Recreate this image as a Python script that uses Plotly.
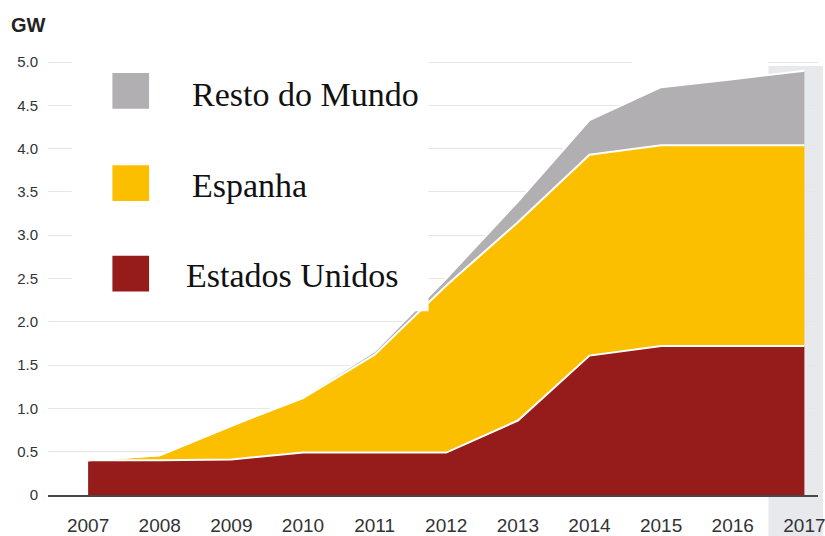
"""Solar thermal (CSP) capacity, stacked area chart: USA, Spain, rest of world."""

import plotly.graph_objects as go

# ── data (GW, cumulative per region) ──
years = [2007, 2008, 2009, 2010, 2011, 2012, 2013, 2014, 2015, 2016, 2017]
estados_unidos = [0.40, 0.40, 0.41, 0.49, 0.49, 0.49, 0.86, 1.61, 1.72, 1.72, 1.72]
espanha = [0.00, 0.06, 0.39, 0.63, 1.13, 1.93, 2.29, 2.32, 2.32, 2.32, 2.32]
resto_do_mundo = [0.00, 0.00, 0.00, 0.02, 0.04, 0.08, 0.24, 0.40, 0.67, 0.76, 0.86]

series_names = ["Estados Unidos", "Espanha", "Resto do Mundo"]
y_tickvals = [0, 0.5, 1.0, 1.5, 2.0, 2.5, 3.0, 3.5, 4.0, 4.5, 5.0]
y_ticktext = ["0", "0.5", "1.0", "1.5", "2.0", "2.5", "3.0", "3.5", "4.0", "4.5", "5.0"]

# ── style ──
RED = "#951c1b"
YELLOW = "#fcbf00"
GREY = "#b1afb1"
HIGHLIGHT = "#e7e9ec"
W, H = 825, 536
M_L, M_R, M_T, M_B = 48, 0, 56, 38


def px_x(p):
    """Pixel x -> paper fraction."""
    return (p - M_L) / (W - M_L - M_R)


def px_y(p):
    """Pixel y (from top) -> paper fraction."""
    return (H - M_B - p) / (H - M_T - M_B)


fig = go.Figure()
for vals, name, color in zip(
    [estados_unidos, espanha, resto_do_mundo], series_names, [RED, YELLOW, GREY]
):
    fig.add_trace(go.Scatter(
        x=years, y=vals, name=name,
        mode="lines", stackgroup="one",
        line=dict(color="white", width=2),
        fillcolor=color,
        hoverinfo="skip",
    ))

shapes = [
    # highlighted last year column
    dict(type="rect", xref="paper", yref="paper", layer="below",
         x0=px_x(775), x1=px_x(830), y0=px_y(540), y1=px_y(66),
         fillcolor=HIGHLIGHT, line_width=0),
    # white box behind the legend
    dict(type="rect", xref="paper", yref="paper", layer="above",
         x0=px_x(72), x1=px_x(432), y0=px_y(313), y1=px_y(54),
         fillcolor="white", line_width=0),
    dict(type="rect", xref="paper", yref="paper", layer="above",
         x0=px_x(637), x1=px_x(775), y0=px_y(66), y1=px_y(54),
         fillcolor="white", line_width=0),
]
legend_items = [
    # (colour, square top px, text centre px, text left px)
    (GREY, 73, 94.5, 191, "Resto do Mundo"),
    (YELLOW, 166, 186.5, 191, "Espanha"),
    (RED, 257, 276.5, 185, "Estados Unidos"),
]
annotations = []
for color, top, mid, left, label in legend_items:
    shapes.append(dict(
        type="rect", xref="paper", yref="paper", layer="above",
        x0=px_x(113), x1=px_x(150), y0=px_y(top + 36), y1=px_y(top),
        fillcolor=color, line_width=0,
    ))
    annotations.append(dict(
        text=label, xref="paper", yref="paper",
        x=px_x(left), y=px_y(mid), xanchor="left", yanchor="middle",
        showarrow=False,
        font=dict(family="Liberation Serif", size=34, color="#111111"),
    ))

annotations.append(dict(
    text="<b>GW</b>", xref="paper", yref="paper",
    x=px_x(9), y=px_y(25), xanchor="left", yanchor="middle",
    showarrow=False,
    font=dict(family="Liberation Sans", size=20, color="#222222"),
))

fig.update_layout(
    width=W, height=H,
    margin=dict(l=M_L, r=M_R, t=M_T, b=M_B),
    paper_bgcolor="white",
    plot_bgcolor="white",
    showlegend=False,
    shapes=shapes,
    annotations=annotations,
    font=dict(family="Liberation Sans", color="#333333"),
)
fig.update_xaxes(
    range=[2006.44, 2017.19],
    tickvals=years,
    showgrid=False, zeroline=False,
    showline=True, linecolor="#474747", linewidth=2,
    ticks="outside", ticklen=12, tickcolor="rgba(0,0,0,0)",
    tickfont=dict(size=19, color="#333333"),
    ticklabeloverflow="allow",
)
fig.update_yaxes(
    range=[0, 5.07],
    tickvals=y_tickvals, ticktext=y_ticktext,
    showgrid=True, gridcolor="#e6e6e6", gridwidth=1,
    zeroline=False, showline=False,
    ticks="outside", ticklen=6, tickcolor="rgba(0,0,0,0)",
    tickfont=dict(size=15, color="#333333"),
)

# page body has a default 8px margin; drop it so the chart fills the window
fig.write_html(
    "out.html",
    config={"displayModeBar": False},
    post_script="document.body.style.margin = '0';"
                "document.documentElement.style.overflow = 'hidden';",
)
